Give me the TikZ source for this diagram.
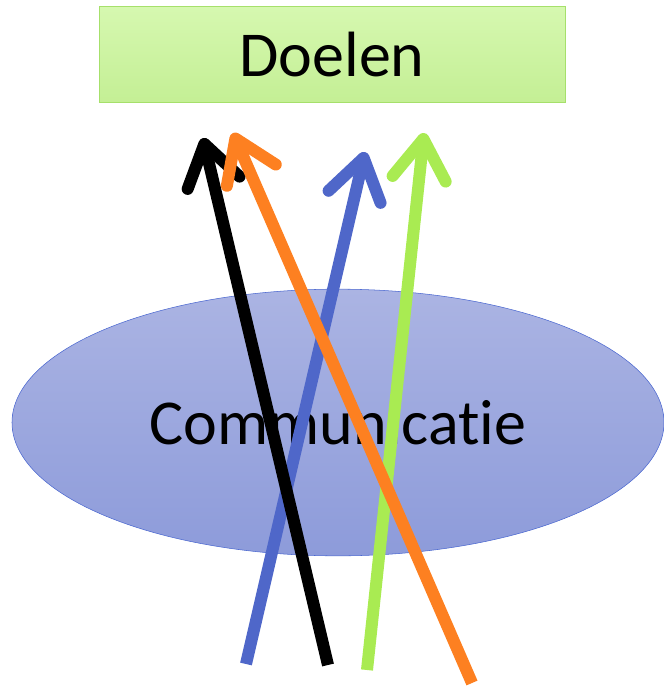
\documentclass[tikz,border=0pt]{standalone}
\usepackage{fontspec}
\setmainfont{Carlito}[Ligatures=NoCommon]
\usetikzlibrary{arrows.meta,shapes.geometric}

\definecolor{goaltop}{HTML}{D6F8B0}
\definecolor{goalbot}{HTML}{C4EF95}
\definecolor{goaldraw}{HTML}{A6E06B}
\definecolor{commtop}{HTML}{ABB4E3}
\definecolor{commbot}{HTML}{8D9BDA}
\definecolor{commdraw}{HTML}{4A67D0}
\definecolor{arrorange}{HTML}{FD8021}
\definecolor{arrblue}{HTML}{4F67C9}
\definecolor{arrgreen}{HTML}{A9EB52}

\tikzset{
  bigtext/.style={font=\fontsize{48}{58}\selectfont},
  pointer/.style={line width=9pt, -{Straight Barb[length=30pt, width=40pt, round]}}
}

\begin{document}
\begin{tikzpicture}[x=0.75pt, y=-0.75pt]
        \useasboundingbox (0,0) rectangle (664,686);

        % Draw the goal box and the ellipse
        \node[draw=goaldraw, top color=goaltop, bottom color=goalbot, minimum width=349.5pt, minimum height=72pt, bigtext, inner sep=0pt] (doelen) at (332,54) {Doelen};
        \node[ellipse, draw=commdraw, top color=commtop, bottom color=commbot, minimum width=489pt, minimum height=200pt, bigtext, inner sep=0pt] (comm) at (338,422.5) {Communicatie};

        % Define arrow ends
        \coordinate (blue0) at (246,664);
        \coordinate (blue1) at (365,152);
        \coordinate (green0) at (367,670);
        \coordinate (green1) at (424,133);
        \coordinate (black0) at (328,665);
        \coordinate (black1) at (203,138);
        \coordinate (orange0) at (472,683);
        \coordinate (orange1) at (233,133);

        % Draw arrows
        \draw[pointer, arrblue] (blue0) -- (blue1);
        \draw[pointer, arrgreen] (green0) -- (green1);
        \draw[pointer, black] (black0) -- (black1);
        \draw[pointer, arrorange] (orange0) -- (orange1);
    \end{tikzpicture}
\end{document}
